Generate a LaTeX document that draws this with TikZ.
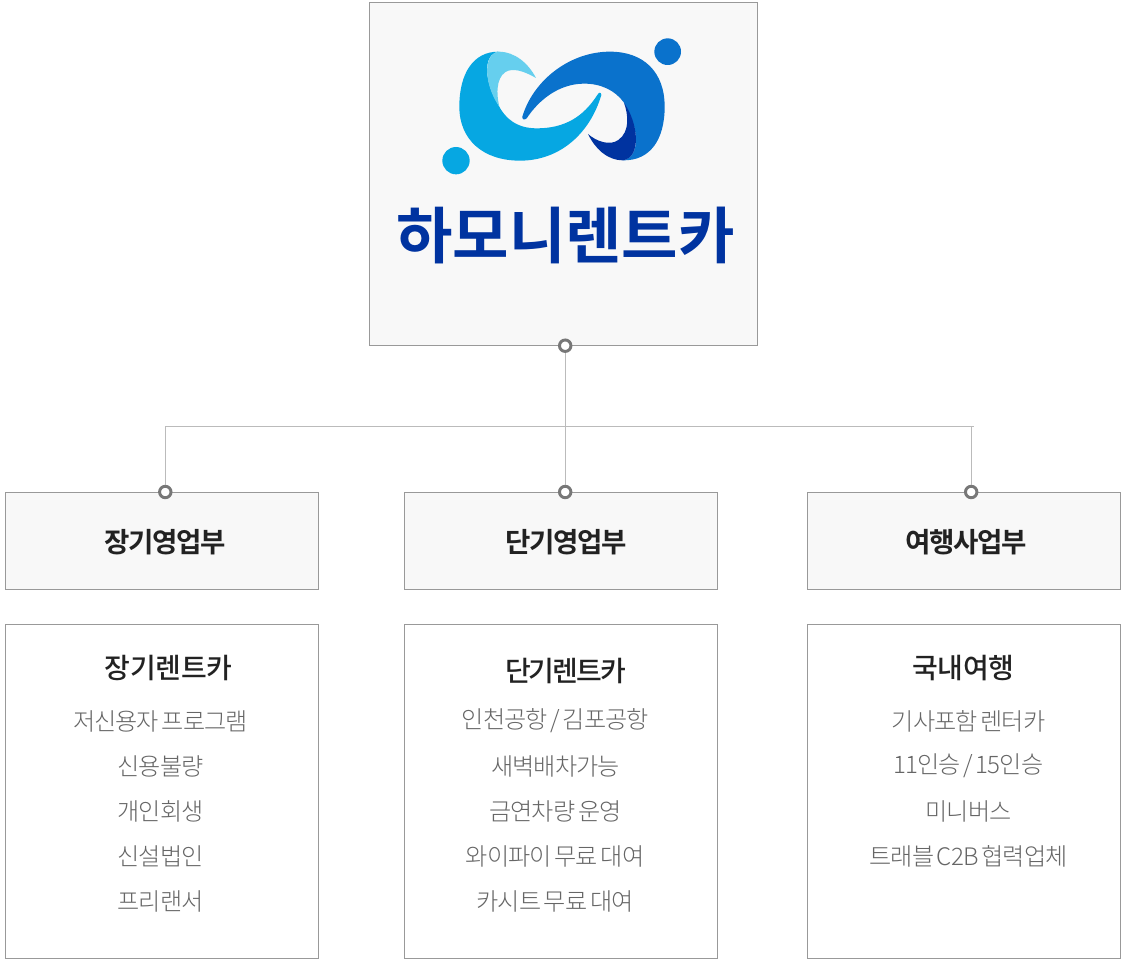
\documentclass[tikz,border=0pt]{standalone}
\usepackage{fontspec}
\newfontfamily\krfont[LetterSpace=-3.7,WordSpace=0.6]{Noto Sans CJK KR Light}
\newfontfamily\krmid[LetterSpace=-1,WordSpace=0.6]{Noto Sans CJK KR Medium}
\newfontfamily\krmidb[LetterSpace=-7,WordSpace=0.6]{Noto Sans CJK KR Medium}
\newfontfamily\krbold[LetterSpace=-5]{Noto Sans CJK KR Bold}
\newfontfamily\krlogo{Noto Sans CJK KR Bold}
\definecolor{boxline}{HTML}{999999}
\definecolor{boxfill}{HTML}{F8F8F8}
\definecolor{wire}{HTML}{BBBBBB}
\definecolor{dotline}{HTML}{777777}
\definecolor{headtext}{HTML}{222222}
\definecolor{bodytext}{HTML}{666666}
\definecolor{cyanlogo}{HTML}{06A7E2}
\definecolor{lightlogo}{HTML}{66CFEE}
\definecolor{bluelogo}{HTML}{0A72CC}
\definecolor{darklogo}{HTML}{0033A0}
\tikzset{
  px/.style={x=0.75pt,y=-0.75pt},
  graybox/.style={draw=boxline,fill=boxfill,line width=0.75pt,minimum width=234.75pt,minimum height=73pt,inner sep=0pt},
  whitebox/.style={draw=boxline,fill=white,line width=0.75pt,minimum width=234.75pt,minimum height=250.5pt,inner sep=0pt},
  topbox/.style={draw=boxline,fill=boxfill,line width=0.75pt,minimum width=291pt,minimum height=257.25pt,inner sep=0pt},
  wireline/.style={draw=wire,line width=0.75pt},
  ring/.style={circle,draw=dotline,fill=white,line width=2.2pt,minimum size=8.6pt,inner sep=0pt},
  dept/.style={font=\krbold\fontsize{20.7pt}{24pt}\selectfont,text=headtext,inner sep=0pt},
  title/.style={font=\krmid\fontsize{21pt}{24pt}\selectfont,text=headtext,inner sep=0pt},
  titleb/.style={font=\krmidb\fontsize{21pt}{24pt}\selectfont,text=headtext,inner sep=0pt},
  item/.style={font=\krfont\fontsize{18.1pt}{22pt}\selectfont,text=bodytext,inner sep=0pt},
}
\begin{document}
\begin{tikzpicture}[px]
\useasboundingbox (0,0) rectangle (1129,963);
\fill[white] (0,0) rectangle (1129,963);
% boxes
\node[topbox] (top) at (563.5,174) {};
\node[graybox] (d1) at (162,540.7) {};
\node[graybox] (d2) at (561,540.7) {};
\node[graybox] (d3) at (964,540.7) {};
\node[whitebox] (w1) at (162,791.5) {};
\node[whitebox] (w2) at (561,791.5) {};
\node[whitebox] (w3) at (964,791.5) {};
% connector points
\coordinate (jl) at (165.3,426.5);
\coordinate (jo) at (973.7,426.5);
\coordinate (jr) at (971.2,426.5);
\node[ring] (r0) at (565.2,345.7) {};
\node[ring] (r1) at (165.3,492) {};
\node[ring] (r2) at (565.2,492) {};
\node[ring] (r3) at (971.2,492) {};
\draw[wireline] (r0.south) -- (r2.north);
\draw[wireline] (r1.north) -- (jl) -- (jo);
\draw[wireline] (jr) -- (r3.north);
% logo
\begin{scope}[shift={(370,0)},x=0.25pt,y=-0.25pt]
\fill[cyanlogo] (385,155) .. controls (310,155) and (268,220) .. (268,320)
  .. controls (268,420) and (340,482) .. (450,482)
  .. controls (570,482) and (660,400) .. (694,285)
  .. controls (693,275) and (686,277) .. (682,285)
  .. controls (640,350) and (585,385) .. (500,385)
  .. controls (440,385) and (405,355) .. (385,315)
  .. controls (345,250) and (335,165) .. (385,155) -- cycle;
\fill[lightlogo] (385,155) .. controls (435,155) and (475,190) .. (498,234)
  .. controls (470,218) and (440,205) .. (415,212)
  .. controls (385,222) and (375,265) .. (388,320)
  .. controls (345,260) and (335,165) .. (385,155) -- cycle;
\fill[bluelogo] (457,350) .. controls (490,240) and (600,155) .. (720,155)
  .. controls (820,155) and (884,215) .. (884,320)
  .. controls (884,420) and (840,482) .. (760,481)
  .. controls (810,470) and (810,390) .. (762,308)
  .. controls (735,270) and (690,250) .. (640,251)
  .. controls (570,252) and (510,295) .. (470,355)
  .. controls (463,362) and (456,358) .. (457,350) -- cycle;
\fill[darklogo] (762,308) .. controls (805,370) and (815,470) .. (760,481)
  .. controls (710,481) and (675,445) .. (654,402)
  .. controls (680,425) and (720,438) .. (745,420)
  .. controls (780,395) and (775,345) .. (762,308) -- cycle;
\fill[bluelogo] (893,155) circle[radius=40];
\fill[cyanlogo] (258,482) circle[radius=41];
\end{scope}
\node[font=\krlogo\fontsize{46pt}{50pt}\selectfont,text=darklogo,inner sep=0pt] (logotext) at (565.5,236) {하모니렌트카};
% departments
\node[dept] (t1) at (165,542) {장기영업부};
\node[dept] (t2) at (566,542) {단기영업부};
\node[dept] (t3) at (966,542) {여행사업부};
% column 1
\node[title] (a0) at (168.5,668) {장기렌트카};
\node[item] (a1) at (160.5,721) {저신용자 프로그램};
\node[item] (a2) at (160.5,766) {신용불량};
\node[item] (a3) at (160.5,811) {개인회생};
\node[item] (a4) at (160.5,856) {신설법인};
\node[item] (a5) at (160.5,901) {프리랜서};
% column 2
\node[titleb] (b0) at (565.5,671) {단기렌트카};
\node[item] (b1) at (555.5,721) {인천공항 / 김포공항};
\node[item] (b2) at (555.5,766) {새벽배차가능};
\node[item] (b3) at (555.5,811) {금연차량 운영};
\node[item] (b4) at (555,856) {와이파이 무료 대여};
\node[item] (b5) at (555,901) {카시트 무료 대여};
% column 3
\node[title] (c0) at (963.5,668) {국내여행};
\node[item] (c1) at (968.5,721) {기사포함 렌터카};
\node[item] (c2) at (968.5,766) {11인승 / 15인승};
\node[item] (c3) at (968.5,811) {미니버스};
\node[item] (c4) at (968.5,856) {트래블 C2B 협력업체};
\end{tikzpicture}
\end{document}
